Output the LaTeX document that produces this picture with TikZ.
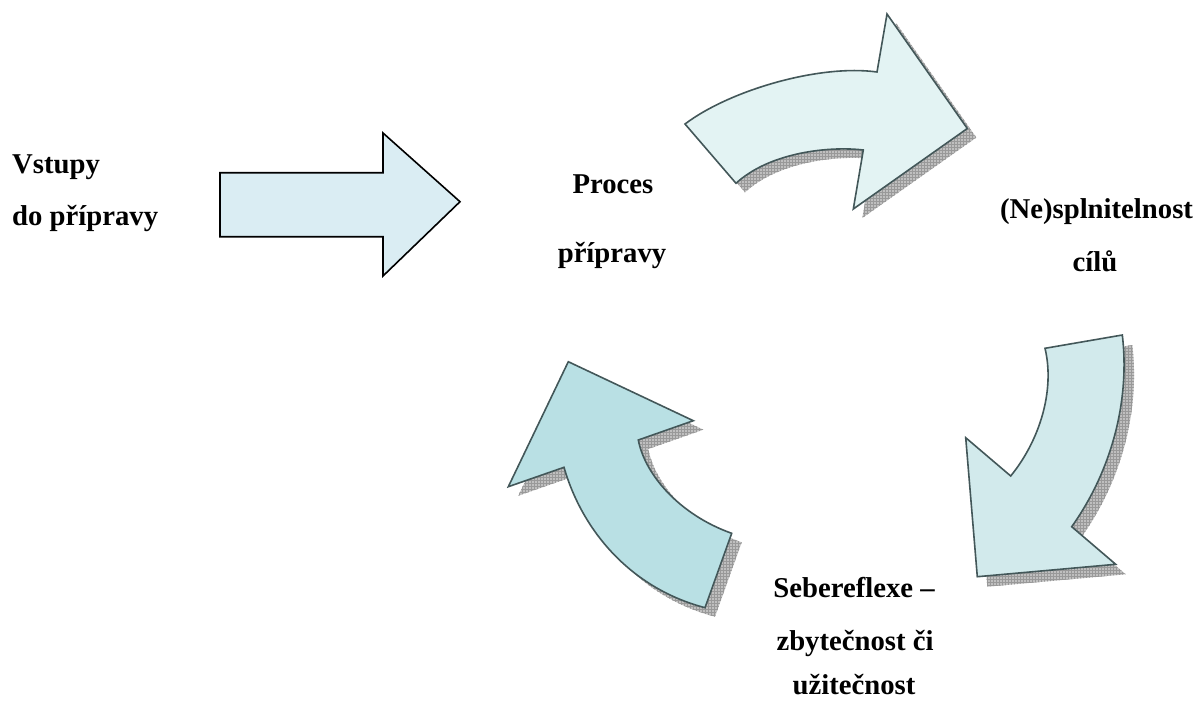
\documentclass[tikz,border=0pt]{standalone}
\usepackage{fontspec}
\setmainfont{Liberation Serif}
\usetikzlibrary{patterns}
\definecolor{fillA}{HTML}{DAEDF3}
\definecolor{fillB}{HTML}{E3F3F3}
\definecolor{fillC}{HTML}{D2EAEC}
\definecolor{fillD}{HTML}{B9E0E4}
\definecolor{edgeC}{HTML}{435759}
\tikzset{
  lbl/.style={inner sep=0pt, font=\fontsize{28.7}{34}\selectfont\bfseries},
  curvedarrow/.style={draw=edgeC, line width=1.6pt, line join=miter},
  straightarrow/.style={draw=black, line width=1.6pt, fill=fillA},
  shadowfill/.style={fill=gray!50, draw=none},
  shadowgrid/.style={pattern=grid, pattern color=gray!80, draw=none},
}
\begin{document}
\begin{tikzpicture}[x=1pt,y=-1pt]
\useasboundingbox (0,0) rectangle (1198,702);

% straight arrow
\draw[straightarrow] (220,172.7) -- (383,172.7) -- (383,133) -- (460,201.7) -- (383,276) -- (383,236.7) -- (220,236.7) -- cycle;

% arrow 1 (top)
\def\arrowone{(685,124) .. controls (730,90) and (820,64) .. (877,72) -- (887,14) -- (967.3,128.5) -- (853.3,209) -- (863.3,150) .. controls (830,146) and (770,152) .. (736,183.3) -- cycle}
% arrow 2 (right)
\def\arrowtwo{(1045,348.3) -- (1122.3,335) .. controls (1130,400) and (1112,470) .. (1071.7,526.7) -- (1115.7,564.3) -- (977.3,576.7) -- (965.7,437.7) -- (1010.7,476) .. controls (1040,440) and (1055,390) .. cycle}
% arrow 3 (left)
\def\arrowthree{(568.3,361.7) -- (693.3,420.7) -- (638.3,440) .. controls (645,475) and (680,515) .. (731.7,533.3) -- (705,607.7) .. controls (630,588) and (582,530) .. (564,467.3) -- (508.3,486.7) -- cycle}

\begin{scope}[shift={(9,9)}]
  \fill[shadowfill] \arrowone;
  \fill[shadowgrid] \arrowone;
\end{scope}
\draw[curvedarrow, fill=fillB] \arrowone;

\begin{scope}[shift={(10,10)}]
  \fill[shadowfill] \arrowtwo;
  \fill[shadowgrid] \arrowtwo;
\end{scope}
\draw[curvedarrow, fill=fillC] \arrowtwo;

\begin{scope}[shift={(10,9)}]
  \fill[shadowfill] \arrowthree;
  \fill[shadowgrid] \arrowthree;
\end{scope}
\draw[curvedarrow, fill=fillD] \arrowthree;

% labels
\node[lbl, anchor=base west] (vst1) at (12,173) {Vstupy};
\node[lbl, anchor=base west] (vst2) at (12,225) {do přípravy};
\node[lbl, anchor=base] (pro1) at (613,193) {Proces};
\node[lbl, anchor=base] (pro2) at (612,262) {přípravy};
\node[lbl, anchor=base] (ne1) at (1096.5,218) {(Ne)splnitelnost};
\node[lbl, anchor=base] (ne2) at (1095,271) {cílů};
\node[lbl, anchor=base] (seb1) at (854,597) {Sebereflexe –};
\node[lbl, anchor=base] (seb2) at (855,650) {zbytečnost či};
\node[lbl, anchor=base] (seb3) at (854,694) {užitečnost};
\end{tikzpicture}
\end{document}
